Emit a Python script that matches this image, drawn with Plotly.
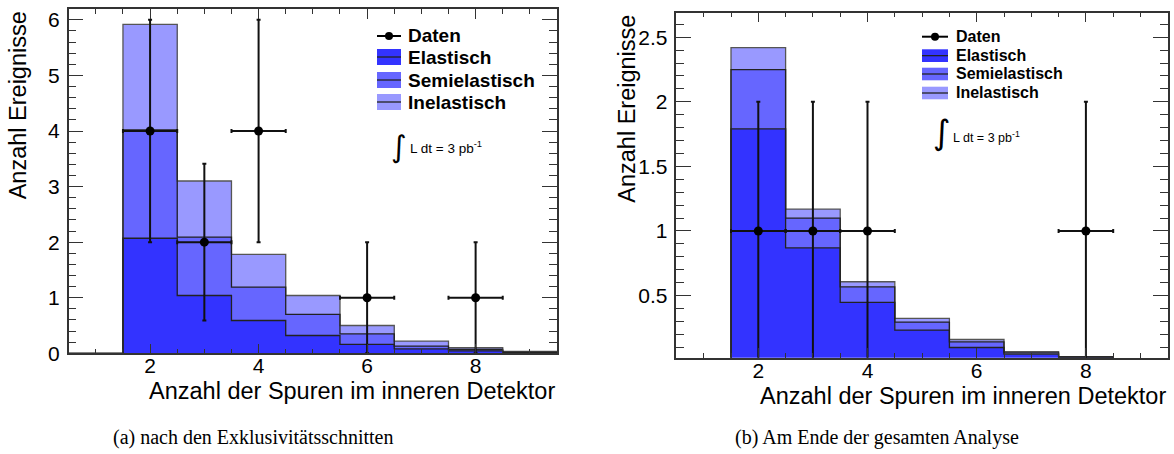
import numpy as np
import plotly.graph_objects as go

W, H = 1174, 454

# Number of tracks per event (bin centres)
bins = [1, 2, 3, 4, 5, 6, 7, 8, 9]

# (a) after exclusivity cuts: stacked MC contributions
a_elastisch = [0, 2.07, 1.04, 0.59, 0.32, 0.16, 0.08, 0.045, 0.013]
a_semielastisch = [0, 1.95, 1.05, 0.60, 0.38, 0.19, 0.05, 0.023, 0.009]
a_inelastisch = [0, 1.90, 1.01, 0.59, 0.34, 0.15, 0.09, 0.032, 0.010]
a_daten_x = [2, 3, 4, 6, 8]
a_daten_y = [4, 2, 4, 1, 1]
a_daten_err = [2, 1.41, 2, 1, 1]

# (b) end of the full analysis
b_elastisch = [0, 1.79, 0.87, 0.447, 0.233, 0.098, 0.047, 0.022, 0.0]
b_semielastisch = [0, 0.46, 0.23, 0.121, 0.062, 0.044, 0.010, 0.003, 0.0]
b_inelastisch = [0, 0.17, 0.07, 0.039, 0.028, 0.018, 0.009, 0.003, 0.0]
b_daten_x = [2, 3, 4, 8]
b_daten_y = [1, 1, 1, 1]
b_daten_err = [1, 1, 1, 1]

legend_labels = ["Daten", "Elastisch", "Semielastisch", "Inelastisch"]
x_title = "Anzahl der Spuren im inneren Detektor"
y_title = "Anzahl Ereignisse"
captions = ["(a) nach den Exklusivitätsschnitten", "(b) Am Ende der gesamten Analyse"]

C_EL, C_SE, C_IN = "#3333ff", "#6666ff", "#9999ff"
FONT = "Liberation Sans"


def px(x):
    return x / W


def py(y):
    return 1 - y / H


fig = go.Figure()


def add_panel(xa, ya, el, se, inel, dx, dy, derr):
    for vals, col, name in [(el, C_EL, "Elastisch"), (se, C_SE, "Semielastisch"), (inel, C_IN, "Inelastisch")]:
        fig.add_trace(go.Bar(x=bins, y=vals, width=1, marker=dict(color=col, line=dict(width=0)),
                             name=name, showlegend=False, xaxis=xa, yaxis=ya))
    # step outlines of the stacked histograms
    edges = [b - 0.5 for b in bins] + [bins[-1] + 0.5]
    c1 = np.array(el)
    c2 = c1 + np.array(se)
    c3 = c2 + np.array(inel)
    for cum, col in [(c3, "#555555"), (c2, "#222222"), (c1, "#222222")]:
        yy = list(cum) + [cum[-1]]
        fig.add_trace(go.Scatter(x=edges, y=yy, mode="lines", line=dict(shape="hv", color=col, width=1.3),
                                 showlegend=False, hoverinfo="skip", xaxis=xa, yaxis=ya))
    fig.add_trace(go.Scatter(
        x=dx, y=dy, mode="markers", marker=dict(size=9, color="black"),
        error_y=dict(type="data", array=derr, thickness=2, width=2, color="#111111"),
        error_x=dict(type="constant", value=0.5, thickness=2, width=2, color="#111111"),
        showlegend=False, xaxis=xa, yaxis=ya))


add_panel("x", "y", a_elastisch, a_semielastisch, a_inelastisch, a_daten_x, a_daten_y, a_daten_err)
add_panel("x2", "y2", b_elastisch, b_semielastisch, b_inelastisch, b_daten_x, b_daten_y, b_daten_err)

tickcol = "#333333"


def xaxis_cfg(dom, anchor):
    return dict(domain=dom, anchor=anchor, range=[0.5, 9.5], tick0=0, dtick=2, automargin=False,
                ticks="inside", ticklen=10, tickwidth=1.3, tickcolor=tickcol,
                minor=dict(dtick=0.5, ticks="inside", ticklen=5, tickwidth=1.3, tickcolor=tickcol),
                showline=True, linecolor=tickcol, linewidth=1.5, mirror="ticks",
                showgrid=False, zeroline=False, layer="above traces",
                tickfont=dict(family=FONT, size=21, color="black"), ticklabelstandoff=-7)


def yaxis_cfg(dom, anchor, rng, dtick, mdtick):
    return dict(domain=dom, anchor=anchor, range=rng, tick0=0, dtick=dtick, automargin=False,
                ticks="inside", ticklen=15, tickwidth=1.3, tickcolor=tickcol,
                minor=dict(dtick=mdtick, ticks="inside", ticklen=8, tickwidth=1.3, tickcolor=tickcol),
                showline=True, linecolor=tickcol, linewidth=1.5, mirror="ticks",
                showgrid=False, zeroline=False, layer="above traces",
                tickfont=dict(family=FONT, size=21, color="black"), ticklabelstandoff=3)


L = dict(x0=68.7, x1=557, y0=9.3, y1=353.3)
R = dict(x0=676.4, x1=1167.8, y0=12.7, y1=357.7)

fig.update_layout(
    width=W, height=H, margin=dict(l=0, r=0, t=0, b=0, autoexpand=False),
    paper_bgcolor="white", plot_bgcolor="white", barmode="stack", bargap=0,
    showlegend=False,
    xaxis=xaxis_cfg([px(L["x0"]), px(L["x1"])], "y"),
    yaxis=yaxis_cfg([py(L["y1"]), py(L["y0"])], "x", [0, 6.19], 1, 0.2),
    xaxis2=xaxis_cfg([px(R["x0"]), px(R["x1"])], "y2"),
    yaxis2=yaxis_cfg([py(R["y1"]), py(R["y0"])], "x2", [0.019, 2.69], 0.5, 0.1),
)

shapes = []
ann = []


def add_legend(x0, x1, ys, boxes, tx, fsize):
    # data entry: line with dot
    shapes.append(dict(type="line", xref="paper", yref="paper", x0=px(x0), x1=px(x1), y0=py(ys[0]), y1=py(ys[0]),
                       line=dict(color="black", width=2)))
    xm = (x0 + x1) / 2
    shapes.append(dict(type="circle", xref="paper", yref="paper", x0=px(xm - 4), x1=px(xm + 4),
                       y0=py(ys[0] - 4), y1=py(ys[0] + 4), fillcolor="black", line=dict(width=0)))
    for (b0, b1), col in zip(boxes, [C_EL, C_SE, C_IN]):
        shapes.append(dict(type="rect", xref="paper", yref="paper", x0=px(x0), x1=px(x1), y0=py(b1), y1=py(b0),
                           fillcolor=col, line=dict(width=0)))
        ym = (b0 + b1) / 2
        shapes.append(dict(type="line", xref="paper", yref="paper", x0=px(x0), x1=px(x1), y0=py(ym), y1=py(ym),
                           line=dict(color="#222222", width=1.3)))
    for lab, yv in zip(legend_labels, ys):
        ann.append(dict(text="<b>" + lab + "</b>", xref="paper", yref="paper", x=px(tx), y=py(yv),
                        xanchor="left", yanchor="middle", showarrow=False,
                        font=dict(family=FONT, size=fsize, color="black")))


add_legend(377, 401, [36, 57.5, 80.5, 102.3], [(49, 65), (72, 88), (94, 110)], 406, 19)
add_legend(922, 948, [36.7, 55.7, 74, 92.7], [(49.3, 62), (67.7, 80.3), (86.7, 99.3)], 954, 16)

# luminosity labels
for ix, iy, tx, ty, isz, tsz in [(398.5, 146, 408, 147, 30, 13.5), (942, 132, 951, 137, 34, 12.5)]:
    ann.append(dict(text="∫", xref="paper", yref="paper", x=px(ix), y=py(iy), xanchor="center", yanchor="middle",
                    showarrow=False, font=dict(family="DejaVu Sans", size=isz, color="black")))
    ann.append(dict(text="L dt = 3 pb<sup>-1</sup>", xref="paper", yref="paper", x=px(tx), y=py(ty),
                    xanchor="left", yanchor="middle", showarrow=False,
                    font=dict(family=FONT, size=tsz, color="black")))

# axis titles
for fr, xt_y, yt_x in [(L, 391, 18), (R, 396, 627)]:
    ann.append(dict(text=x_title, xref="paper", yref="paper", x=px(fr["x1"]), y=py(xt_y), xanchor="right",
                    yanchor="middle", showarrow=False, font=dict(family=FONT, size=23.5, color="black")))
    ann.append(dict(text=y_title, xref="paper", yref="paper", x=px(yt_x), y=py(fr["y0"]), xanchor="center",
                    yanchor="top", textangle=-90, showarrow=False,
                    font=dict(family=FONT, size=23.5, color="black")))

# sub-figure captions
for cx, cap in zip([253, 877], captions):
    ann.append(dict(text=cap, xref="paper", yref="paper", x=px(cx), y=py(437), xanchor="center", yanchor="middle",
                    showarrow=False, font=dict(family="Liberation Serif", size=20, color="black")))

fig.update_layout(shapes=shapes, annotations=ann)
fig.write_html("out.html")
